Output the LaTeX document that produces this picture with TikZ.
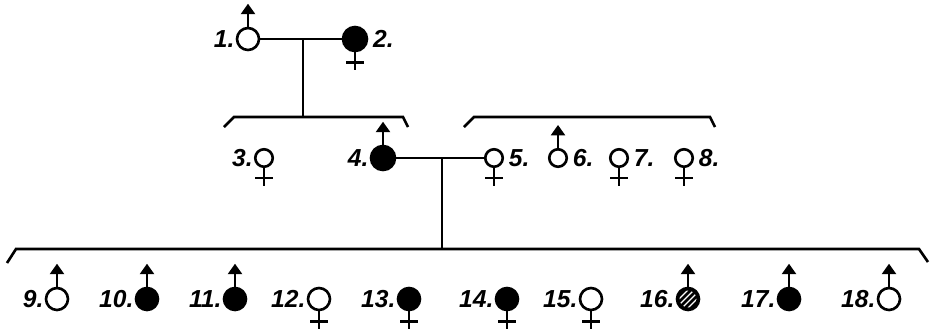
\documentclass[tikz,border=0pt]{standalone}
\usepackage{fontspec}
\setmainfont{Liberation Sans}
\usetikzlibrary{positioning,arrows.meta}

\begin{document}
\begin{tikzpicture}[x=0.02cm,y=-0.02cm,line width=1.5pt,
  open/.style={circle,draw,inner sep=0pt,minimum size=0.44cm},
  dark/.style={open,fill=black},
  small/.style={minimum size=0.35cm},
  big/.style={minimum size=0.48cm},
  lab/.style={inner sep=0pt,font=\fontsize{14}{16}\selectfont\bfseries\itshape}]
  \useasboundingbox (0,0) rectangle (933,329);
  % first generation
  \node[open] (p1) at (248,39) {};
  \node[dark,big] (p2) at (355,39) {};
  % second generation
  \node[open,small] (p3) at (264,158) {};
  \node[dark,big] (p4) at (383,158) {};
  \foreach \n/\x in {5/494,6/558,7/619,8/684}
    {\node[open,small] (p\n) at (\x,158) {};}
  % third generation
  \foreach \n/\x/\s in {9/57/open,10/147/dark,11/235/dark,12/319/open,13/409/dark,
                        14/507/dark,15/591/open,16/688/dark,17/789/dark,18/889/open}
    {\node[\s] (p\n) at (\x,299) {};}
  % hatching of 16
  \begin{scope}
    \clip (p16.center) circle (0.17cm);
    \foreach \d in {-4.5,-1.5,1.5,4.5}
      {\draw[white,line width=0.7pt] (p16.center) ++(\d-10,\d+10) -- ++(20,-20);}
  \end{scope}
  % labels
  \foreach \n in {1,3,4,9,10,11,12,13,14,15,16,17,18}
    {\node[lab,left=0pt of p\n] (l\n) {\n.};}
  \foreach \n in {2,5,6,7,8}
    {\node[lab,right=2pt of p\n] (l\n) {\n.};}
  % sex signs
  \foreach \n in {1,4,6,9,10,11,16,17,18}
    {\draw[-{Triangle[length=6pt,width=8pt]}] (p\n.north) -- ++(0,-23);}
  \foreach \n in {2,3,5,7,8,12,13,14,15}
    {\draw (p\n.south) -- ++(0,18) (p\n.south) ++(-9,10) -- ++(18,0);}
  % matings and descent
  \draw (p1) -- (p2);
  \draw (p4) -- (p5);
  \coordinate (m1) at (303,39);
  \coordinate (s1) at (303,117);
  \coordinate (m2) at (442,158);
  \coordinate (s2) at (442,249);
  \draw (m1) -- (s1);
  \draw (m2) -- (s2);
  % sibships
  \draw (224,127) -- (234,117) -- (403,117) -- (408,127);
  \draw (464,127) -- (474,117) -- (710,117) -- (715,127);
  \draw (7,263) -- (16,249) -- (919,249) -- (928,262);
\end{tikzpicture}
\end{document}
